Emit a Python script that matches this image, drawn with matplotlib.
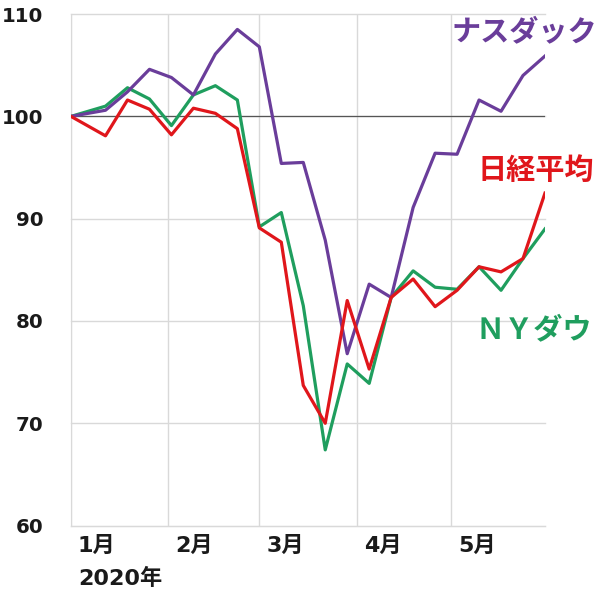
import pandas as pd
import matplotlib
matplotlib.use("Agg")
import matplotlib.pyplot as plt
import matplotlib.transforms as mtransforms

plt.rcParams['font.family'] = ['DejaVu Sans', 'Noto Sans CJK JP']

# weekly closes, indexed to 100 at the start of 2020
dates = pd.to_datetime([
    "2020-01-01", "2020-01-12", "2020-01-19", "2020-01-26", "2020-02-02",
    "2020-02-09", "2020-02-16", "2020-02-23", "2020-03-01", "2020-03-08",
    "2020-03-15", "2020-03-22", "2020-03-29", "2020-04-05", "2020-04-12",
    "2020-04-19", "2020-04-26", "2020-05-03", "2020-05-10", "2020-05-17",
    "2020-05-24", "2020-05-31",
])
nasdaq = [100, 100.6, 102.4, 104.6, 103.8, 102.1, 106.1, 108.5, 106.8, 95.4, 95.5,
          87.9, 76.8, 83.6, 82.3, 91.1, 96.4, 96.3, 101.6, 100.5, 104.0, 105.9]
nikkei = [100, 98.1, 101.6, 100.7, 98.2, 100.8, 100.3, 98.8, 89.1, 87.7, 73.7,
          70.0, 82.0, 75.3, 82.3, 84.1, 81.4, 83.0, 85.3, 84.8, 86.1, 92.5]
nydow = [100, 101.0, 102.8, 101.7, 99.1, 102.1, 103.0, 101.6, 89.2, 90.6, 81.5,
         67.4, 75.8, 73.9, 82.3, 84.9, 83.3, 83.1, 85.3, 83.0, 86.1, 89.0]

month_starts = pd.to_datetime(["2020-01-01", "2020-02-01", "2020-03-01", "2020-04-01", "2020-05-01"])
month_labels = ["1月", "2月", "3月", "4月", "5月"]
yticks = [60, 70, 80, 90, 100, 110]

PURPLE = "#6a3d9a"
RED = "#e0161b"
GREEN = "#1f9e5e"
GRID = "#d9d9d9"

fig = plt.figure(figsize=(6, 5.92), dpi=100)
ax = fig.add_axes([0.1183, 0.1122, 0.79, 0.864])

ax.plot(dates, nasdaq, color=PURPLE, lw=2.3, zorder=4)
ax.plot(dates, nydow, color=GREEN, lw=2.3, zorder=3)
ax.plot(dates, nikkei, color=RED, lw=2.3, zorder=5)
ax.axhline(100, color="#555555", lw=0.9, zorder=2)

ax.set_xlim(dates[0], dates[-1])
ax.set_ylim(60, 110)
ax.set_yticks(yticks)
ax.set_xticks(month_starts)
ax.set_xticklabels([])
ax.grid(True, color=GRID, lw=1, zorder=0)
for gl in ax.get_ygridlines():
    gl.set_clip_on(False)
ax.tick_params(length=0)
ax.tick_params(axis='y', pad=20, labelsize=14.3, labelcolor="#1a1a1a")
for t in ax.get_yticklabels():
    t.set_fontweight("bold")

for s in ["top", "right"]:
    ax.spines[s].set_visible(False)
for s in ["left", "bottom"]:
    ax.spines[s].set_color(GRID)

offset = mtransforms.ScaledTranslation(5 / 72, 0, fig.dpi_scale_trans)
trans = mtransforms.blended_transform_factory(ax.transData, ax.transAxes) + offset
for d, lab in zip(month_starts, month_labels):
    ax.text(d, -0.02, lab, transform=trans, ha="left", va="top",
            fontsize=16, fontweight="bold", color="#1a1a1a")
ax.text(month_starts[0], -0.082, "2020年", transform=trans, ha="left", va="top",
        fontsize=16, fontweight="bold", color="#1a1a1a")

cjk = ["Noto Sans CJK JP", "DejaVu Sans"]
fig.text(0.752, 0.947, "ナスダック", color=PURPLE, fontsize=21, fontweight="bold",
         family=cjk, va="center", ha="left")
fig.text(0.795, 0.713, "日経平均", color=RED, fontsize=21, fontweight="bold",
         family=cjk, va="center", ha="left")
fig.text(0.793, 0.444, "ＮＹダウ", color=GREEN, fontsize=21, fontweight="bold",
         family=cjk, va="center", ha="left")

fig.savefig("out.png", dpi=100, facecolor="white")
